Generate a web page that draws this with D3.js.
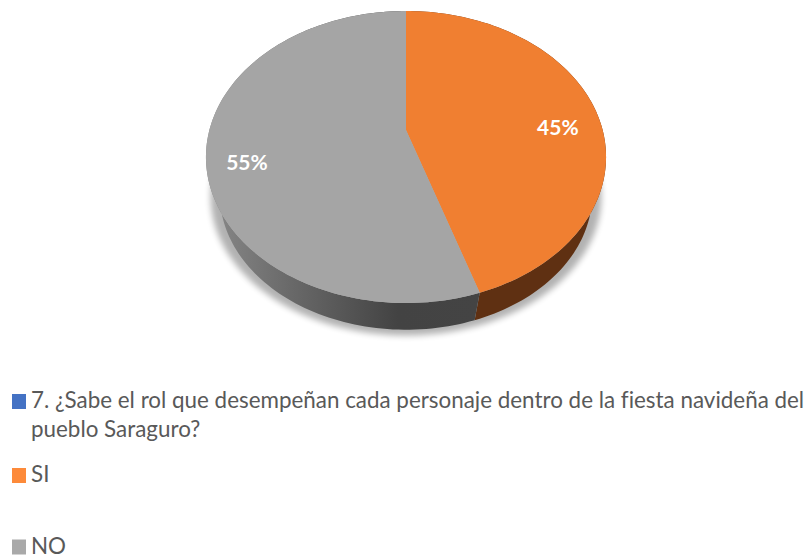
<!DOCTYPE html>
<html>
<head>
<meta charset="utf-8">
<script src="https://d3js.org/d3.v7.min.js"></script>
<style>
body { margin: 0; background: #fff; }
svg { display: block; }
text { font-family: Lato, "Open Sans", sans-serif; font-variant-ligatures: none; }
</style>
</head>
<body>
<svg id="chart" width="810" height="558"></svg>
<script>
const categories = ["7. ¿Sabe el rol que desempeñan cada personaje dentro de la fiesta navideña del|pueblo Saraguro?", "SI", "NO"]
const values = [0, 45, 55]
const colors = ["#4472c4", "#f07f31", "#a5a5a5"]
const wallColors = ["#2a4478", "#5f3012", "url(#grayWall)"]
const swatchColors = ["#4472c4", "#fd8a3a", "#a9a9a9"]
const legendBaselines = [408, 482, 553.5]

const svg = d3.select("#chart")
const defs = svg.append("defs")

const blur = defs.append("filter").attr("id", "soft")
    .attr("x", "-10%").attr("y", "-10%").attr("width", "120%").attr("height", "120%")
blur.append("feGaussianBlur").attr("stdDeviation", 3)

const grad = defs.append("linearGradient").attr("id", "grayWall")
    .attr("gradientUnits", "userSpaceOnUse")
    .attr("x1", 206).attr("x2", 480).attr("y1", 0).attr("y2", 0)
grad.append("stop").attr("offset", "0%").attr("stop-color", "#8a8a8a")
grad.append("stop").attr("offset", "30%").attr("stop-color", "#6a6a6a")
grad.append("stop").attr("offset", "70%").attr("stop-color", "#434343")
grad.append("stop").attr("offset", "100%").attr("stop-color", "#444444")

// the disc is seen in perspective, so the centre is not the middle of the ellipse
const tilt = -0.185
function project(disc, r, a) {
    const u = r * Math.sin(a), v = -r * Math.cos(a)
    const w = 1 + tilt * v
    return [disc.cx + disc.bx * u / w, disc.cy + disc.by * v / w]
}
const topDisc = {cx: 406, cy: 130, bx: 196.6, by: 141}
const baseDisc = {cx: 406, cy: 169, bx: 183, by: 131}
const shadowDisc = {cx: 406, cy: 171, bx: 192, by: 134}

const pie = d3.pie().sort(null).value(d => d)
const slices = pie(values)
const line = d3.line()

function arcAngles(s) {
    const n = Math.max(2, Math.ceil((s.endAngle - s.startAngle) * 40))
    return d3.range(n + 1).map(i => s.startAngle + (s.endAngle - s.startAngle) * i / n)
}

// soft shadow under the base
svg.append("path")
    .attr("d", line(d3.range(0, 360, 3).map(d => project(shadowDisc, 1, d * Math.PI / 180))) + "Z")
    .attr("fill", "#000")
    .attr("opacity", 0.3)
    .attr("filter", "url(#soft)")

// walls: outline made of the top rim and the base rim of each slice
svg.append("g").selectAll("path")
    .data(slices.filter(s => s.value > 0))
    .join("path")
    .attr("d", s => {
        const angles = arcAngles(s)
        const rim = angles.map(a => project(topDisc, 1, a))
        const base = angles.slice().reverse().map(a => project(baseDisc, 1, a))
        return line(rim.concat(base)) + "Z"
    })
    .attr("fill", s => wallColors[s.index])

// top of the pie
svg.append("g").selectAll("path")
    .data(slices.filter(s => s.value > 0))
    .join("path")
    .attr("d", s => line([project(topDisc, 0, 0)].concat(arcAngles(s).map(a => project(topDisc, 1, a)))) + "Z")
    .attr("fill", s => colors[s.index])

// percent labels
svg.append("g").selectAll("text")
    .data(slices.filter(s => s.value > 0))
    .join("text")
    .attr("x", s => project(topDisc, 0.8, (s.startAngle + s.endAngle) / 2)[0])
    .attr("y", s => project(topDisc, 0.8, (s.startAngle + s.endAngle) / 2)[1] + 22)
    .attr("text-anchor", "middle")
    .attr("fill", "#fff")
    .attr("font-size", 21)
    .attr("font-weight", 700)
    .text(s => s.value + "%")

// legend
const legend = svg.append("g").selectAll("g")
    .data(categories)
    .join("g")
    .attr("transform", (d, i) => "translate(0," + legendBaselines[i] + ")")
legend.append("rect")
    .attr("x", 12).attr("y", -14)
    .attr("width", 14).attr("height", 15)
    .attr("fill", (d, i) => swatchColors[i])
legend.append("text")
    .attr("fill", "#595959")
    .attr("font-size", 22.4)
    .selectAll("tspan")
    .data(d => d.split("|"))
    .join("tspan")
    .attr("x", 31)
    .attr("y", (d, i) => i * 29)
    .text(d => d)
</script>
</body>
</html>
